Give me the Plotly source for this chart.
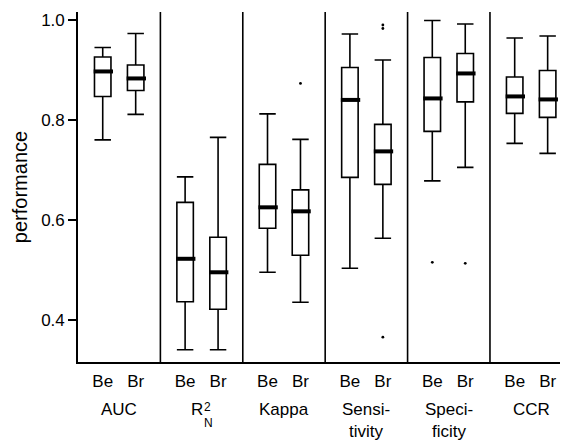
import plotly.graph_objects as go

# ---- data ----
groups = ["AUC", "R2N", "Kappa", "Sensitivity", "Specificity", "CCR"]
group_labels = ["AUC", "", "Kappa", "Sensi-<br>tivity", "Speci-<br>ficity", "CCR"]
series = ["Be", "Br"]
y_ticks = [0.4, 0.6, 0.8, 1.0]

be_low = [0.760, 0.340, 0.495, 0.503, 0.678, 0.753]
be_q1 = [0.847, 0.436, 0.583, 0.685, 0.777, 0.813]
be_med = [0.897, 0.522, 0.625, 0.840, 0.843, 0.847]
be_q3 = [0.926, 0.635, 0.711, 0.905, 0.925, 0.886]
be_high = [0.945, 0.686, 0.812, 0.972, 0.999, 0.964]

br_low = [0.811, 0.340, 0.435, 0.563, 0.705, 0.733]
br_q1 = [0.859, 0.421, 0.529, 0.671, 0.836, 0.805]
br_med = [0.883, 0.495, 0.617, 0.737, 0.893, 0.841]
br_q3 = [0.910, 0.565, 0.660, 0.791, 0.933, 0.899]
br_high = [0.973, 0.765, 0.761, 0.920, 0.992, 0.968]

be_out_group = [4]
be_out_val = [0.515]
br_out_group = [2, 3, 3, 3, 4]
br_out_val = [0.873, 0.990, 0.983, 0.365, 0.513]

# ---- layout helpers ----
OFF = 0.2
BOXW = 0.2
FONT = "Liberation Sans, Arial, sans-serif"
FS = 17

be_x = [i - OFF for i in range(len(groups))]
br_x = [i + OFF for i in range(len(groups))]

fig = go.Figure()

for xs, lo, q1, md, q3, hi in [
    (be_x, be_low, be_q1, be_med, be_q3, be_high),
    (br_x, br_low, br_q1, br_med, br_q3, br_high),
]:
    fig.add_trace(go.Box(
        x=xs, q1=q1, median=md, q3=q3, lowerfence=lo, upperfence=hi,
        width=BOXW, whiskerwidth=1, fillcolor="white",
        line=dict(color="black", width=1.6), boxpoints=False,
        showlegend=False, hoverinfo="skip",
    ))
    mx, my = [], []
    for x, m in zip(xs, md):
        mx += [x - BOXW / 2 - 0.01, x + BOXW / 2 + 0.025, None]
        my += [m, m, None]
    fig.add_trace(go.Scatter(x=mx, y=my, mode="lines",
                             line=dict(color="black", width=4),
                             showlegend=False, hoverinfo="skip"))

ox = [be_x[g] for g in be_out_group] + [br_x[g] for g in br_out_group]
oy = be_out_val + br_out_val
fig.add_trace(go.Scatter(x=ox, y=oy, mode="markers",
                         marker=dict(color="black", size=2.8),
                         showlegend=False, hoverinfo="skip"))

# separators
for i in range(len(groups) - 1):
    fig.add_shape(type="line", xref="x", yref="paper", x0=i + 0.5, x1=i + 0.5,
                  y0=0, y1=1, line=dict(color="black", width=1.6))

PH = 350.3  # plot height in px
def ypaper(px_below_axis):
    return -px_below_axis / PH

for i in range(len(groups)):
    if group_labels[i]:
        fig.add_annotation(x=i, y=ypaper(36), xref="x", yref="paper",
                           text=group_labels[i], showarrow=False,
                           font=dict(size=FS, color="black", family=FONT),
                           yanchor="top")

# R^2_N stacked label
fig.add_annotation(x=1, y=ypaper(36), xref="x", yref="paper", text="R",
                   showarrow=False, xshift=-5,
                   font=dict(size=FS, color="black", family=FONT), yanchor="top")
fig.add_annotation(x=1, y=ypaper(36), xref="x", yref="paper", text="2",
                   showarrow=False, xshift=6,
                   font=dict(size=12, color="black", family=FONT), yanchor="top")
fig.add_annotation(x=1, y=ypaper(52), xref="x", yref="paper", text="N",
                   showarrow=False, xshift=7,
                   font=dict(size=12, color="black", family=FONT), yanchor="top")

fig.update_layout(
    width=560, height=433,
    margin=dict(l=70, r=0, t=4, b=79),
    paper_bgcolor="white", plot_bgcolor="white",
    font=dict(family=FONT, size=FS, color="black"),
    xaxis=dict(
        range=[-0.5, 5.447],
        tickvals=be_x + br_x,
        ticktext=[series[0]] * len(groups) + [series[1]] * len(groups),
        ticks="", showgrid=False, zeroline=False,
        showline=True, linecolor="black", linewidth=1.6,
        ticklabelstandoff=3,
        tickfont=dict(size=FS),
    ),
    yaxis=dict(
        range=[0.3154, 1.016],
        tickvals=y_ticks, tickformat=".1f",
        ticks="outside", ticklen=8, tickwidth=1.6, tickcolor="black",
        showgrid=False, zeroline=False,
        showline=True, linecolor="black", linewidth=1.6,
        title=dict(text="performance", standoff=8, font=dict(size=20)),
        tickfont=dict(size=FS),
    ),
)

fig.write_html("out.html")
